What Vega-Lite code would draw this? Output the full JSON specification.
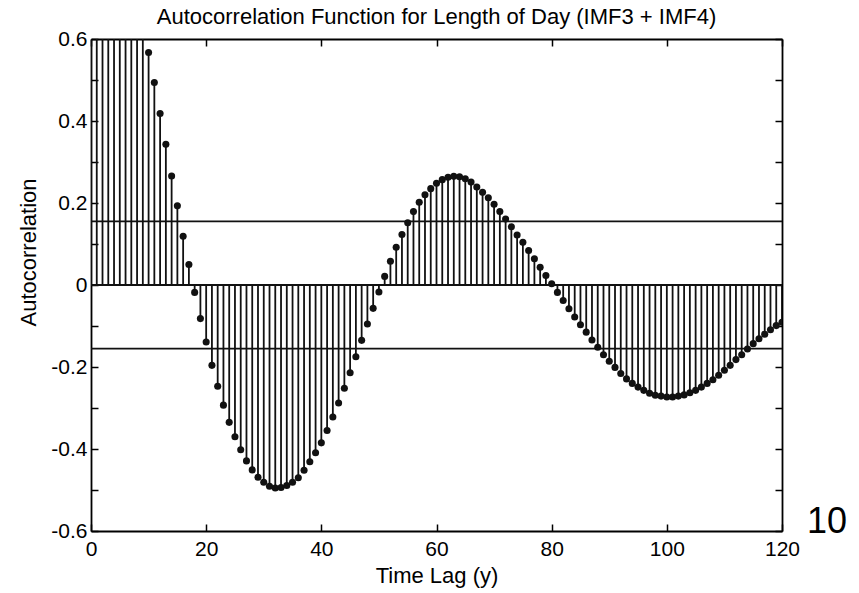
{
  "$schema": "https://vega.github.io/schema/vega-lite/v6.json",
  "width": 691,
  "height": 492,
  "autosize": {"type": "none"},
  "padding": {"left": 91, "top": 39, "right": 77, "bottom": 62},
  "background": "white",
  "config": {"view": {"stroke": null}, "font": "Liberation Sans"},
  "title": {"text": "Autocorrelation Function for Length of Day (IMF3 + IMF4)", "fontSize": 22, "fontWeight": "normal", "font": "Liberation Sans", "color": "black", "anchor": "middle", "offset": -1},
  "datasets": {
    "acf": [
      {"lag": 0, "r": 1.0}, {"lag": 1, "r": 0.996}, {"lag": 2, "r": 0.985}, {"lag": 3, "r": 0.965}, {"lag": 4, "r": 0.935},
      {"lag": 5, "r": 0.89}, {"lag": 6, "r": 0.84}, {"lag": 7, "r": 0.78}, {"lag": 8, "r": 0.71}, {"lag": 9, "r": 0.639},
      {"lag": 10, "r": 0.567}, {"lag": 11, "r": 0.494}, {"lag": 12, "r": 0.418}, {"lag": 13, "r": 0.343}, {"lag": 14, "r": 0.266},
      {"lag": 15, "r": 0.193}, {"lag": 16, "r": 0.119}, {"lag": 17, "r": 0.05}, {"lag": 18, "r": -0.018}, {"lag": 19, "r": -0.082},
      {"lag": 20, "r": -0.139}, {"lag": 21, "r": -0.196}, {"lag": 22, "r": -0.247}, {"lag": 23, "r": -0.293}, {"lag": 24, "r": -0.335},
      {"lag": 25, "r": -0.37}, {"lag": 26, "r": -0.402}, {"lag": 27, "r": -0.429}, {"lag": 28, "r": -0.451}, {"lag": 29, "r": -0.469},
      {"lag": 30, "r": -0.481}, {"lag": 31, "r": -0.491}, {"lag": 32, "r": -0.495}, {"lag": 33, "r": -0.494}, {"lag": 34, "r": -0.489},
      {"lag": 35, "r": -0.481}, {"lag": 36, "r": -0.47}, {"lag": 37, "r": -0.452}, {"lag": 38, "r": -0.431}, {"lag": 39, "r": -0.409},
      {"lag": 40, "r": -0.385}, {"lag": 41, "r": -0.355}, {"lag": 42, "r": -0.322}, {"lag": 43, "r": -0.288}, {"lag": 44, "r": -0.252},
      {"lag": 45, "r": -0.214}, {"lag": 46, "r": -0.175}, {"lag": 47, "r": -0.135}, {"lag": 48, "r": -0.095}, {"lag": 49, "r": -0.057},
      {"lag": 50, "r": -0.017}, {"lag": 51, "r": 0.021}, {"lag": 52, "r": 0.058}, {"lag": 53, "r": 0.092}, {"lag": 54, "r": 0.123},
      {"lag": 55, "r": 0.152}, {"lag": 56, "r": 0.179}, {"lag": 57, "r": 0.202}, {"lag": 58, "r": 0.22}, {"lag": 59, "r": 0.235},
      {"lag": 60, "r": 0.248}, {"lag": 61, "r": 0.257}, {"lag": 62, "r": 0.263}, {"lag": 63, "r": 0.265}, {"lag": 64, "r": 0.264},
      {"lag": 65, "r": 0.259}, {"lag": 66, "r": 0.251}, {"lag": 67, "r": 0.239}, {"lag": 68, "r": 0.226}, {"lag": 69, "r": 0.213},
      {"lag": 70, "r": 0.197}, {"lag": 71, "r": 0.179}, {"lag": 72, "r": 0.161}, {"lag": 73, "r": 0.142}, {"lag": 74, "r": 0.122},
      {"lag": 75, "r": 0.104}, {"lag": 76, "r": 0.084}, {"lag": 77, "r": 0.064}, {"lag": 78, "r": 0.043}, {"lag": 79, "r": 0.023},
      {"lag": 80, "r": 0.003}, {"lag": 81, "r": -0.018}, {"lag": 82, "r": -0.038}, {"lag": 83, "r": -0.058}, {"lag": 84, "r": -0.078},
      {"lag": 85, "r": -0.097}, {"lag": 86, "r": -0.115}, {"lag": 87, "r": -0.134}, {"lag": 88, "r": -0.152}, {"lag": 89, "r": -0.17},
      {"lag": 90, "r": -0.186}, {"lag": 91, "r": -0.201}, {"lag": 92, "r": -0.216}, {"lag": 93, "r": -0.229}, {"lag": 94, "r": -0.24},
      {"lag": 95, "r": -0.249}, {"lag": 96, "r": -0.257}, {"lag": 97, "r": -0.264}, {"lag": 98, "r": -0.269}, {"lag": 99, "r": -0.271},
      {"lag": 100, "r": -0.273}, {"lag": 101, "r": -0.273}, {"lag": 102, "r": -0.271}, {"lag": 103, "r": -0.268}, {"lag": 104, "r": -0.263},
      {"lag": 105, "r": -0.257}, {"lag": 106, "r": -0.249}, {"lag": 107, "r": -0.24}, {"lag": 108, "r": -0.231}, {"lag": 109, "r": -0.22},
      {"lag": 110, "r": -0.208}, {"lag": 111, "r": -0.196}, {"lag": 112, "r": -0.182}, {"lag": 113, "r": -0.17}, {"lag": 114, "r": -0.156},
      {"lag": 115, "r": -0.143}, {"lag": 116, "r": -0.131}, {"lag": 117, "r": -0.12}, {"lag": 118, "r": -0.109}, {"lag": 119, "r": -0.099},
      {"lag": 120, "r": -0.091}
    ],
    "levels": [{"level": 0.155}, {"level": 0}, {"level": -0.155}],
    "note": [{"lag": 120, "r": -0.6, "t": "10"}]
  },
  "resolve": {"axis": {"x": "independent", "y": "independent"}},
  "layer": [
    {
      "data": {"name": "acf"},
      "mark": {"type": "rule", "color": "#111111", "strokeWidth": 1.8, "clip": true},
      "encoding": {
        "x": {"field": "lag", "type": "quantitative", "scale": {"domain": [0, 120], "nice": false, "zero": false},
          "axis": {"orient": "bottom", "values": [0, 20, 40, 60, 80, 100, 120], "tickSize": -7, "tickWidth": 1.5, "tickColor": "black",
            "domainColor": "black", "domainWidth": 1.8, "grid": false, "labelFontSize": 21, "labelColor": "black", "labelFlush": false,
            "labelPadding": 14, "title": "Time Lag (y)", "titleFontSize": 22, "titleFontWeight": "normal", "titleColor": "black", "titlePadding": 6}},
        "y": {"field": "r", "type": "quantitative", "scale": {"domain": [-0.6, 0.6], "nice": false, "zero": false},
          "axis": {"orient": "left", "values": [-0.6, -0.5, -0.4, -0.3, -0.2, -0.1, 0, 0.1, 0.2, 0.3, 0.4, 0.5, 0.6],
            "labelExpr": "round(abs(datum.value) * 10) % 2 == 0 ? ((datum.value < 0 ? '-' : '') + format(abs(datum.value), '~g')) : ''",
            "tickSize": -7, "tickWidth": 1.5, "tickColor": "black", "domainColor": "black", "domainWidth": 1.8, "grid": false,
            "labelFontSize": 21, "labelColor": "black", "labelFlush": false, "labelPadding": 11,
            "title": "Autocorrelation", "titleFontSize": 22, "titleFontWeight": "normal", "titleColor": "black", "titlePadding": 10, "titleY": 213}},
        "y2": {"datum": 0}
      }
    },
    {
      "data": {"name": "acf"},
      "mark": {"type": "circle", "color": "#111111", "opacity": 1, "size": 50, "clip": true},
      "encoding": {
        "x": {"field": "lag", "type": "quantitative",
          "axis": {"orient": "top", "values": [0, 20, 40, 60, 80, 100, 120], "tickSize": -7, "tickWidth": 1.5, "tickColor": "black",
            "domainColor": "black", "domainWidth": 1.8, "grid": false, "labels": false, "title": null}},
        "y": {"field": "r", "type": "quantitative",
          "axis": {"orient": "right", "values": [-0.6, -0.5, -0.4, -0.3, -0.2, -0.1, 0, 0.1, 0.2, 0.3, 0.4, 0.5, 0.6],
            "tickSize": -7, "tickWidth": 1.5, "tickColor": "black", "domainColor": "black", "domainWidth": 1.8, "grid": false,
            "labels": false, "title": null}}
      }
    },
    {
      "data": {"name": "levels"},
      "mark": {"type": "rule", "color": "#111111", "strokeWidth": 1.8},
      "encoding": {
        "y": {"field": "level", "type": "quantitative", "axis": null}
      }
    },
    {
      "data": {"name": "note"},
      "mark": {"type": "text", "fontSize": 36, "color": "black", "align": "left", "baseline": "alphabetic", "dx": 25, "dy": 2, "font": "Liberation Sans"},
      "encoding": {
        "x": {"field": "lag", "type": "quantitative", "axis": null},
        "y": {"field": "r", "type": "quantitative", "axis": null},
        "text": {"field": "t"}
      }
    }
  ]
}
